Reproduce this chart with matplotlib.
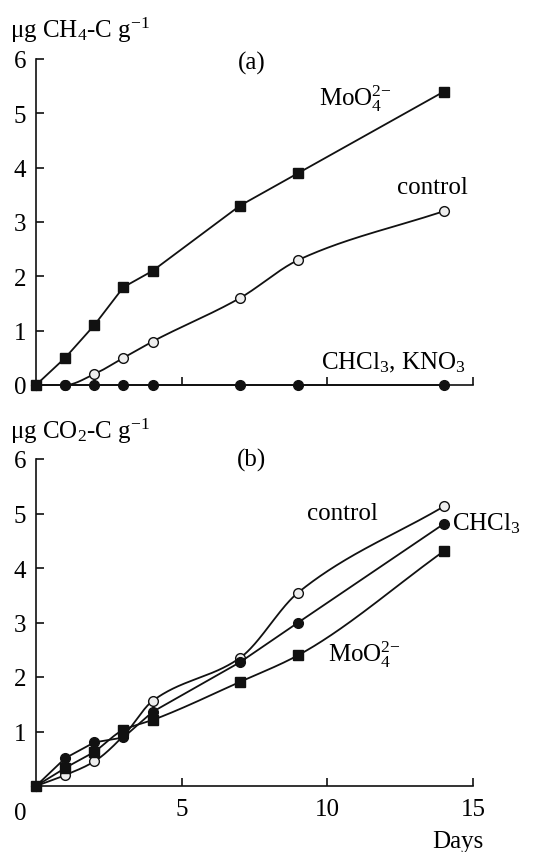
import numpy as np
import matplotlib
matplotlib.use('Agg')
import matplotlib.pyplot as plt

plt.rcParams['font.family'] = ['Liberation Serif', 'DejaVu Serif']
plt.rcParams['mathtext.fontset'] = 'custom'
plt.rcParams['mathtext.rm'] = 'Liberation Serif'
plt.rcParams['mathtext.it'] = 'Liberation Serif:italic'
plt.rcParams['font.size'] = 18

# days of incubation
days = [0, 1, 2, 3, 4, 7, 9, 14]

# (a) methane, ug CH4-C per g
ch4_moo4 = [0.0, 0.5, 1.1, 1.8, 2.1, 3.3, 3.9, 5.4]
ch4_control = [0.0, 0.0, 0.2, 0.5, 0.8, 1.6, 2.3, 3.2]
ch4_chcl3_kno3 = [0, 0, 0, 0, 0, 0, 0, 0]

# (b) carbon dioxide, ug CO2-C per g
co2_control = [0.0, 0.2, 0.45, 0.92, 1.56, 2.35, 3.55, 5.13]
co2_chcl3 = [0.0, 0.51, 0.8, 0.89, 1.36, 2.27, 3.0, 4.81]
co2_moo4 = [0.0, 0.33, 0.63, 1.03, 1.21, 1.91, 2.4, 4.31]

W, H = 546, 853


def pchip(x, y, xs):
    # monotone cubic curve through the measured points
    x = np.asarray(x, float)
    y = np.asarray(y, float)
    h = np.diff(x)
    d = np.diff(y) / h
    m = np.zeros_like(y)
    for k in range(1, len(x) - 1):
        if d[k - 1] * d[k] > 0:
            w1 = 2 * h[k] + h[k - 1]
            w2 = h[k] + 2 * h[k - 1]
            m[k] = (w1 + w2) / (w1 / d[k - 1] + w2 / d[k])
    m[0] = d[0]
    m[-1] = d[-1]
    i = np.clip(np.searchsorted(x, xs) - 1, 0, len(x) - 2)
    t = (xs - x[i]) / h[i]
    h00 = 2 * t**3 - 3 * t**2 + 1
    h10 = t**3 - 2 * t**2 + t
    h01 = -2 * t**3 + 3 * t**2
    h11 = t**3 - t**2
    return h00 * y[i] + h10 * h[i] * m[i] + h01 * y[i + 1] + h11 * h[i] * m[i + 1]


def series(ax, y, marker, face, smooth=True):
    if smooth:
        xs = np.linspace(days[0], days[-1], 400)
        ax.plot(xs, pchip(days, y, xs), color='#111111', lw=1.3, clip_on=False)
    else:
        ax.plot(days, y, color='#111111', lw=1.3, clip_on=False)
    ax.plot(days, y, ls='none', marker=marker, ms=7, mfc=face, mec='#111111',
            mew=1.0, clip_on=False)


def style(ax):
    ax.set_xlim(0, 15)
    ax.set_ylim(0, 6)
    for s in ['top', 'right']:
        ax.spines[s].set_visible(False)
    for s in ['left', 'bottom']:
        ax.spines[s].set_linewidth(1.2)
        ax.spines[s].set_color('#111111')
    ax.tick_params(direction='in', length=6, width=1.2, color='#111111')
    ax.tick_params(axis='y', pad=7)
    ax.tick_params(axis='x', pad=9)
    ax.set_xticks([5, 10, 15])


def ftext(px, py, s, **kw):
    fig.text(px / W, 1 - py / H, s, va='center', **kw)


fig = plt.figure(figsize=(W / 100, H / 100), dpi=100)
ax1 = fig.add_axes([36 / W, 1 - 386 / H, 437 / W, 326 / H])
ax2 = fig.add_axes([36 / W, 1 - 787 / H, 437 / W, 327 / H])

# (a)
series(ax1, ch4_control, 'o', '#eeeeee')
series(ax1, ch4_chcl3_kno3, 'o', '#111111', smooth=False)
series(ax1, ch4_moo4, 's', '#111111', smooth=False)
style(ax1)
ax1.set_yticks(range(0, 7))
ax1.set_xticklabels([])

# (b)
series(ax2, co2_control, 'o', '#eeeeee')
series(ax2, co2_chcl3, 'o', '#111111', smooth=False)
series(ax2, co2_moo4, 's', '#111111')
style(ax2)
ax2.set_yticks(range(1, 7))
ax2.set_xticklabels(['5', '10', '15'])

ftext(10, 30, 'μg CH$_4$-C g$^{-1}$', ha='left')
ftext(252, 63, '(a)', ha='center')
ftext(319, 99, 'MoO$_4^{2{-}}$', ha='left')
ftext(397, 188, 'control', ha='left')
ftext(321, 363, 'CHCl$_3$, KNO$_3$', ha='left')

ftext(10, 431, 'μg CO$_2$-C g$^{-1}$', ha='left')
ftext(252, 460, '(b)', ha='center')
ftext(307, 514, 'control', ha='left')
ftext(452, 524, 'CHCl$_3$', ha='left')
ftext(328, 655, 'MoO$_4^{2{-}}$', ha='left')
ftext(20, 814, '0', ha='center')
ftext(458, 842, 'Days', ha='center')

fig.savefig('out.png', dpi=100)
